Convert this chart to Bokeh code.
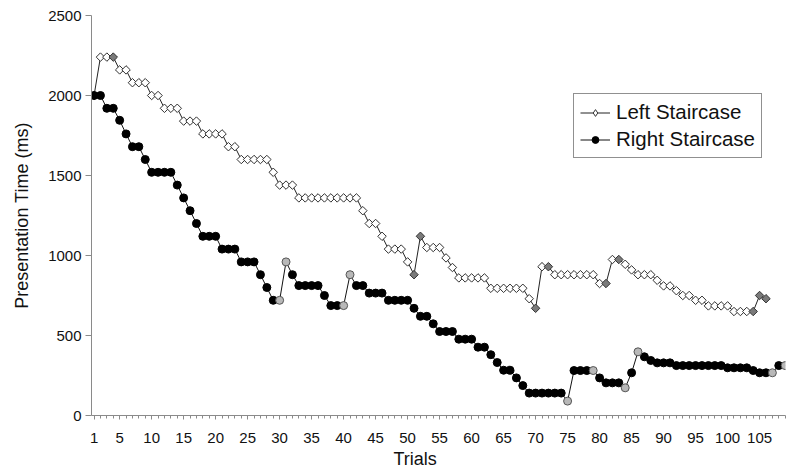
import math
from bokeh.plotting import figure
from bokeh.models import ColumnDataSource, FixedTicker, Legend, LegendItem, Title, Range1d
from bokeh.embed import file_html
from bokeh.resources import INLINE

# ---- data ----
left_values = [2000, 2240, 2240, 2240, 2160, 2160, 2080, 2080, 2080, 2000,
               2000, 1920, 1920, 1920, 1840, 1840, 1840, 1760, 1760, 1760,
               1760, 1680, 1680, 1600, 1600, 1600, 1600, 1600, 1520, 1440,
               1440, 1440, 1360, 1360, 1360, 1360, 1360, 1360, 1360, 1360,
               1360, 1360, 1280, 1200, 1200, 1120, 1040, 1040, 1040, 960,
               880, 1120, 1050, 1050, 1050, 985, 925, 860, 860, 860,
               860, 860, 795, 795, 795, 795, 795, 795, 730, 670,
               930, 930, 880, 880, 880, 880, 880, 880, 880, 825,
               825, 975, 975, 945, 910, 880, 880, 880, 845, 810,
               810, 780, 750, 750, 720, 720, 685, 685, 685, 685,
               650, 650, 650, 650, 750, 730]
left_reversals = [4, 51, 52, 70, 72, 81, 83, 104, 105, 106]

right_values = [2000, 2000, 1920, 1920, 1845, 1760, 1680, 1680, 1600, 1520,
                1520, 1520, 1520, 1440, 1360, 1280, 1200, 1120, 1120, 1120,
                1040, 1040, 1040, 960, 960, 960, 880, 800, 720, 720,
                960, 880, 812, 812, 812, 812, 750, 687, 687, 687,
                880, 812, 812, 765, 765, 765, 720, 720, 720, 720,
                670, 620, 620, 573, 525, 525, 525, 477, 477, 477,
                427, 427, 380, 331, 283, 283, 235, 187, 140, 140,
                140, 140, 140, 140, 90, 281, 281, 281, 281, 235,
                204, 204, 204, 173, 267, 398, 367, 344, 329, 329,
                329, 312, 312, 312, 312, 312, 312, 312, 312, 298,
                298, 298, 298, 281, 267, 267, 267, 312, 312]
right_reversals = [30, 31, 40, 41, 75, 79, 84, 86, 107, 109]

x_tick_labels = [1, 5, 10, 15, 20, 25, 30, 35, 40, 45, 50, 55, 60, 65, 70,
                 75, 80, 85, 90, 95, 100, 105]
y_ticks = [0, 500, 1000, 1500, 2000, 2500]

# ---- sources ----
left_trials = list(range(1, len(left_values) + 1))
right_trials = list(range(1, len(right_values) + 1))

def split(trials, values, rev):
    norm = dict(x=[t for t in trials if t not in rev],
                y=[v for t, v in zip(trials, values) if t not in rev])
    gray = dict(x=[t for t in trials if t in rev],
                y=[v for t, v in zip(trials, values) if t in rev])
    return ColumnDataSource(norm), ColumnDataSource(gray)

left_line_src = ColumnDataSource(dict(x=left_trials, y=left_values))
right_line_src = ColumnDataSource(dict(x=right_trials, y=right_values))
left_norm, left_gray = split(left_trials, left_values, left_reversals)
right_norm, right_gray = split(right_trials, right_values, right_reversals)

FONT = "Liberation Sans"

p = figure(width=800, height=476, output_backend="svg", toolbar_location=None,
           x_range=Range1d(0.6, 109.05), y_range=Range1d(0, 2500),
           min_border_left=91, min_border_right=15, min_border_top=15,
           min_border_bottom=61)
p.outline_line_color = None
p.grid.visible = False
p.background_fill_color = "white"
p.border_fill_color = "white"

# ---- glyphs ----
l_line = p.line("x", "y", source=left_line_src, line_color="#222222", line_width=1)
# diamond glyph used for the legend entry (sits fully inside the drawn markers)
l_leg = p.scatter("x", "y", source=left_norm, marker="diamond", size=7,
                  fill_color="white", line_color="#333333", line_width=1)
p.scatter("x", "y", source=left_norm, marker="square", angle=math.pi / 4,
          size=6, fill_color="white", line_color="#333333", line_width=1)
p.scatter("x", "y", source=left_gray, marker="square", angle=math.pi / 4,
          size=6, fill_color="#7a7a7a", line_color="#333333", line_width=1)

r_line = p.line("x", "y", source=right_line_src, line_color="#111111", line_width=1)
r_pts = p.scatter("x", "y", source=right_norm, marker="circle", size=8,
                  fill_color="black", line_color="black", line_width=1)
p.scatter("x", "y", source=right_gray, marker="circle", size=8,
          fill_color="#b8b8b8", line_color="#555555", line_width=1)

# ---- axes ----
ax_col = "#8a8a8a"
p.xaxis.ticker = FixedTicker(ticks=x_tick_labels, minor_ticks=right_trials)
p.xaxis.axis_line_color = ax_col
p.xaxis.major_tick_line_color = ax_col
p.xaxis.minor_tick_line_color = ax_col
p.xaxis.major_tick_in = 0
p.xaxis.major_tick_out = 4
p.xaxis.minor_tick_in = 0
p.xaxis.minor_tick_out = 3
p.xaxis.major_label_text_font = FONT
p.xaxis.major_label_text_font_size = "15px"
p.xaxis.major_label_text_color = "#111111"
p.xaxis.major_label_standoff = 13

p.yaxis.ticker = FixedTicker(ticks=y_ticks, minor_ticks=[])
p.yaxis.axis_line_color = ax_col
p.yaxis.major_tick_line_color = ax_col
p.yaxis.major_tick_in = 0
p.yaxis.major_tick_out = 6
p.yaxis.minor_tick_line_color = None
p.yaxis.major_label_text_font = FONT
p.yaxis.major_label_text_font_size = "15px"
p.yaxis.major_label_text_color = "#111111"
p.yaxis.major_label_standoff = 4
p.yaxis.axis_label = "Presentation Time (ms)"
p.yaxis.axis_label_text_font = FONT
p.yaxis.axis_label_text_font_size = "18px"
p.yaxis.axis_label_text_font_style = "normal"
p.yaxis.axis_label_text_color = "#111111"
p.yaxis.axis_label_standoff = 13

trials_title = Title(text="Trials", align="left", offset=302, standoff=2,
                     text_font=FONT, text_font_size="18px",
                     text_font_style="normal", text_color="#111111")
p.add_layout(trials_title, "below")

# ---- legend ----
legend = Legend(items=[LegendItem(label="Left Staircase", renderers=[l_line, l_leg]),
                       LegendItem(label="Right Staircase", renderers=[r_line, r_pts])],
                location=(482, 257), margin=0, padding=6, spacing=3,
                glyph_width=30, glyph_height=17, label_height=24, label_standoff=6,
                label_text_font=FONT, label_text_font_size="20.5px",
                label_text_color="#111111",
                border_line_color="#222222", border_line_width=1,
                background_fill_color="white", background_fill_alpha=1.0)
p.add_layout(legend)

open("out.html", "w").write(file_html(p, INLINE))
